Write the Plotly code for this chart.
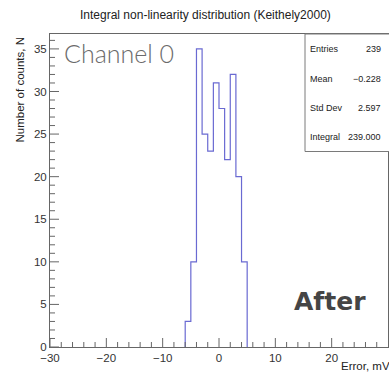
import plotly.graph_objects as go

# Data
bin_edges = [-6, -5, -4, -3, -2, -1, 0, 1, 2, 3, 4, 5]
counts = [3, 10, 35, 25, 23, 31, 28, 22, 32, 20, 10]
x_ticks = [-30, -20, -10, 0, 10, 20, 30]
y_ticks = [0, 5, 10, 15, 20, 25, 30, 35]
stats_labels = ["Entries", "Mean", "Std Dev", "Integral"]
stats_values = ["239", "\u22120.228", "2.597", "239.000"]
title_text = "Integral non-linearity distribution (Keithely2000)"

# step outline
xs = [bin_edges[0]] + bin_edges[:-1] + [bin_edges[-1]]
ys = [0] + counts + [0]

W, H = 389, 374
L, R, T, B = 50, 1, 34, 27
pw, ph = W - L - R, H - T - B
XR = [-30, 30]
YR = [0, 36.75]

def px(x):
    return (x - L) / pw

def py(y):
    return (H - B - y) / ph

fig = go.Figure()
fig.add_trace(go.Scatter(x=xs, y=ys, mode="lines", line=dict(shape="hv", color="#6a6ad2", width=1.2),
                         hoverinfo="skip", showlegend=False))

FONT = "Liberation Sans, Arial, sans-serif"
AX = "#666666"

common = dict(ticks="", showline=True, linecolor=AX, linewidth=1, mirror=True, showgrid=False,
              zeroline=False, tickfont=dict(size=11.5, color="#333"), automargin=False)
fig.update_xaxes(range=XR, tickmode="array", tickvals=x_ticks, **common)
fig.update_yaxes(range=YR, tickmode="array", tickvals=y_ticks, **common)

fig.update_layout(
    width=W, height=H,
    margin=dict(l=L, r=R, t=T, b=B, autoexpand=False),
    paper_bgcolor="white", plot_bgcolor="white",
    font=dict(family=FONT, size=11, color="#333"),
    showlegend=False,
)

# ROOT-style inside ticks (major + minor), anchored to the axes in pixel size
x_step = (x_ticks[1] - x_ticks[0]) / 5
y_step = (y_ticks[1] - y_ticks[0]) / 5
shapes = []
for i, xt in enumerate(x_ticks[:-1]):
    for k in range(5):
        v = xt + k * x_step
        ln = 9 if k == 0 else 5
        shapes.append(dict(type="line", xref="x", yref="y", x0=v, x1=v, ysizemode="pixel", yanchor=YR[0],
                           y0=0, y1=ln, line=dict(color=AX, width=1)))
for i, yt in enumerate(y_ticks):
    for k in range(5):
        v = yt + k * y_step
        if v > YR[1]:
            break
        ln = 9 if k == 0 else 5
        shapes.append(dict(type="line", xref="x", yref="y", y0=v, y1=v, xsizemode="pixel", xanchor=XR[0],
                           x0=0, x1=ln, line=dict(color=AX, width=1)))
shapes.append(dict(type="rect", xref="paper", yref="paper", x0=px(305), x1=px(392), y0=py(151.5), y1=py(34),
                   line=dict(color="#7a7a7a", width=1), fillcolor="white", layer="above"))
fig.update_layout(shapes=shapes)

ann = []
ann.append(dict(text=title_text, xref="paper", yref="paper", x=px(205), y=py(15),
                xanchor="center", yanchor="middle", showarrow=False,
                font=dict(size=12, family=FONT, color="#222")))
ann.append(dict(text="Number of counts, N", xref="paper", yref="paper", x=px(19), y=py(36),
                xanchor="center", yanchor="top", textangle=-90, showarrow=False,
                font=dict(size=11.5, family=FONT, color="#222")))
ann.append(dict(text="Error, mV", xref="paper", yref="paper", x=px(392), y=py(366),
                xanchor="right", yanchor="middle", showarrow=False,
                font=dict(size=11.5, family=FONT, color="#222")))
ann.append(dict(text="Channel 0", xref="paper", yref="paper", x=px(62), y=py(53),
                xanchor="left", yanchor="middle", showarrow=False,
                font=dict(size=25, family="Lato, sans-serif", color="#6b6b6b", weight=300)))
ann.append(dict(text="<b>After</b>", xref="paper", yref="paper", x=px(330), y=py(301),
                xanchor="center", yanchor="middle", showarrow=False,
                font=dict(size=25, family="DejaVu Sans, sans-serif", color="#454545")))

row_y = [49, 78.5, 108, 137]
for lab, val, yy in zip(stats_labels, stats_values, row_y):
    ann.append(dict(text=lab, xref="paper", yref="paper", x=px(308), y=py(yy), xanchor="left",
                    yanchor="middle", showarrow=False, font=dict(size=9, family=FONT, color="#222")))
    ann.append(dict(text=val, xref="paper", yref="paper", x=px(383), y=py(yy), xanchor="right",
                    yanchor="middle", showarrow=False, font=dict(size=9, family=FONT, color="#222")))
fig.update_layout(annotations=ann)

fig.write_html("out.html", config={"displayModeBar": False},
               post_script="document.body.style.margin='0';document.body.style.overflow='hidden';")
